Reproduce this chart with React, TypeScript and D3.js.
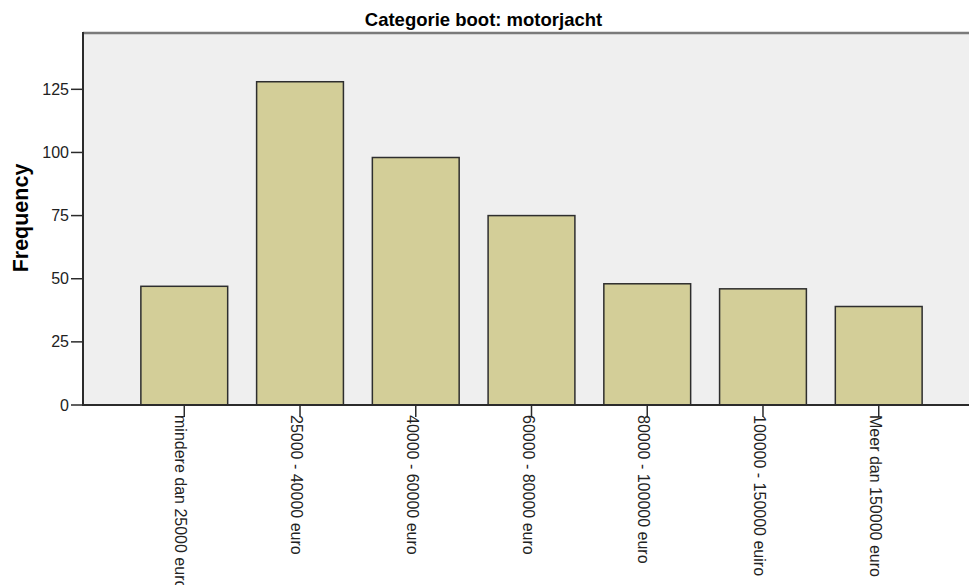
import React from "react";
import * as d3 from "d3";

const categories: string[] = [
  "mindere dan 25000 euro",
  "25000 - 40000 euro",
  "40000 - 60000 euro",
  "60000 - 80000 euro",
  "80000 - 100000 euro",
  "100000 - 150000 euiro",
  "Meer dan 150000 euro",
];
const frequencies: number[] = [47, 128, 98, 75, 48, 46, 39];
const yTicks: number[] = [0, 25, 50, 75, 100, 125];
const title = "Categorie boot: motorjacht";
const yLabel = "Frequency";

const W = 969;
const H = 585;
const plotLeft = 83;
const plotRight = 980;
const plotTop = 33;
const plotBottom = 405;

export default function App() {
  const x = d3
    .scaleBand<string>()
    .domain(categories)
    .range([plotLeft, plotRight])
    .paddingInner(0.25)
    .paddingOuter(0.5);
  const y = d3.scaleLinear().domain([0, 147.3]).range([plotBottom, plotTop]);
  const font = "Arial, 'Liberation Sans', sans-serif";

  return (
    <svg
      width={W}
      height={H}
      style={{ position: "absolute", left: 0, top: 0, background: "#fff" }}
      fontFamily={font}
    >
      <rect x={plotLeft} y={plotTop} width={plotRight - plotLeft} height={plotBottom - plotTop} fill="#efefef" />
      <line x1={plotLeft} x2={plotRight} y1={plotTop} y2={plotTop} stroke="#7a7a7a" strokeWidth={2.5} />
      {categories.map((c, i) => (
        <rect
          key={c}
          x={x(c)}
          y={y(frequencies[i])}
          width={x.bandwidth()}
          height={y(0) - y(frequencies[i])}
          fill="#d3ce98"
          stroke="#2e2e2e"
          strokeWidth={1.5}
        />
      ))}
      <line x1={plotLeft} x2={plotLeft} y1={plotTop - 1} y2={plotBottom} stroke="#2b2b2b" strokeWidth={2} />
      <line x1={plotLeft - 1} x2={plotRight} y1={plotBottom} y2={plotBottom} stroke="#2b2b2b" strokeWidth={2} />
      {yTicks.map((t) => (
        <g key={t}>
          <line x1={plotLeft - 12} x2={plotLeft} y1={y(t)} y2={y(t)} stroke="#2b2b2b" strokeWidth={1.5} />
          <text x={plotLeft - 14} y={y(t)} dy="0.35em" textAnchor="end" fontSize={16} fill="#222">
            {t}
          </text>
        </g>
      ))}
      {categories.map((c) => {
        const cx = (x(c) as number) + x.bandwidth() / 2;
        return (
          <g key={c}>
            <line x1={cx} x2={cx} y1={plotBottom} y2={plotBottom + 12} stroke="#2b2b2b" strokeWidth={1.5} />
            <text
              transform={`translate(${cx - 9},${plotBottom + 10}) rotate(90)`}
              fontSize={16}
              fill="#222"
            >
              {c}
            </text>
          </g>
        );
      })}
      <text x={483.5} y={26} textAnchor="middle" fontSize={18.5} fontWeight="bold" fill="#000">
        {title}
      </text>
      <text
        transform={`translate(28,218) rotate(-90)`}
        textAnchor="middle"
        fontSize={21.5}
        fontWeight="bold"
        fill="#000"
      >
        {yLabel}
      </text>
    </svg>
  );
}
